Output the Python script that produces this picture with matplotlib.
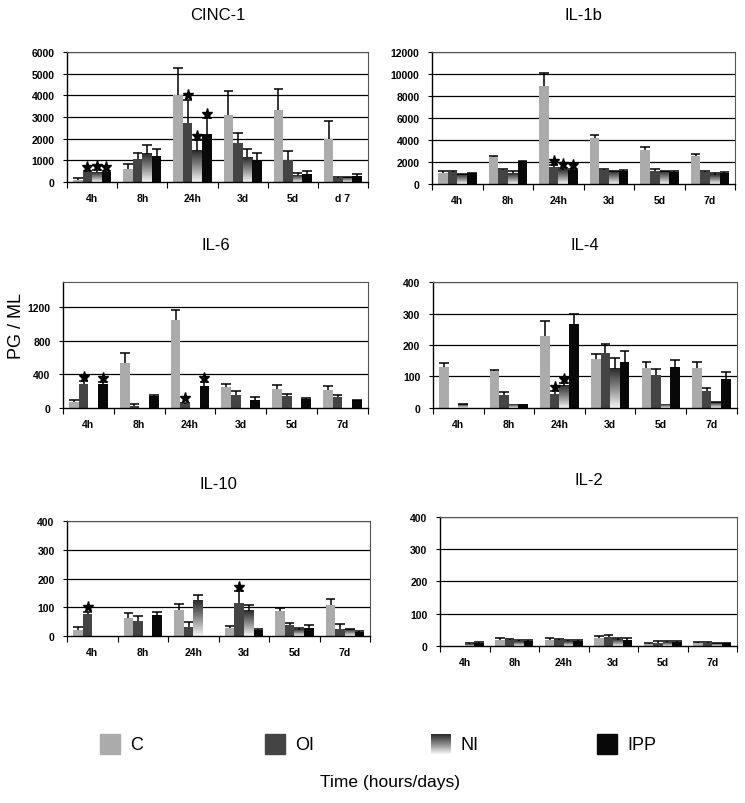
import matplotlib

matplotlib.use("Agg")
import matplotlib.pyplot as plt
import numpy as np
from matplotlib.colors import LinearSegmentedColormap
from matplotlib.patches import Rectangle
from matplotlib.transforms import offset_copy

plt.rcParams["font.family"] = ["Liberation Sans", "DejaVu Sans"]

SERIES = ["C", "OI", "NI", "IPP"]
TIMES = ["4h", "8h", "24h", "3d", "5d", "7d"]
TIMES_CINC = ["4h", "8h", "24h", "3d", "5d", "d 7"]

# values per series (C, OI, NI, IPP) x time; sd = upper error bar length
cinc1_mean = [[80, 600, 4000, 3100, 3300, 2000],
              [450, 1050, 2700, 1800, 1000, 200],
              [450, 1300, 1450, 1150, 300, 200],
              [450, 1200, 2200, 1000, 350, 280]]
cinc1_sd = [[90, 250, 1250, 1100, 1000, 820],
            [60, 300, 1100, 450, 450, 50],
            [100, 400, 500, 350, 100, 50],
            [70, 330, 750, 350, 150, 100]]
cinc1_stars = [(0, 1), (0, 2), (0, 3), (2, 1), (2, 2), (2, 3)]

il1b_mean = [[1000, 2450, 8950, 4200, 3050, 2500],
             [1050, 1250, 1550, 1300, 1150, 1050],
             [850, 1000, 1300, 1100, 1100, 850],
             [1000, 2100, 1250, 1200, 1100, 1000]]
il1b_sd = [[200, 100, 1150, 250, 300, 250],
           [100, 100, 200, 100, 250, 150],
           [50, 150, 150, 100, 100, 100],
           [30, 30, 100, 100, 100, 100]]
il1b_stars = [(2, 1), (2, 2), (2, 3)]

il6_mean = [[70, 530, 1050, 250, 230, 210],
            [290, 25, 50, 160, 140, 130],
            [0, 0, 0, 0, 0, 0],
            [280, 140, 260, 100, 110, 90]]
il6_sd = [[20, 130, 120, 40, 45, 50],
          [30, 25, 15, 40, 30, 30],
          [0, 0, 0, 0, 0, 0],
          [30, 10, 50, 30, 10, 10]]
il6_stars = [(0, 1), (0, 3), (2, 1), (2, 3)]

il4_mean = [[130, 118, 230, 155, 128, 128],
            [0, 42, 45, 175, 105, 55],
            [12, 12, 70, 125, 10, 18],
            [0, 12, 268, 145, 130, 92]]
il4_sd = [[12, 4, 47, 17, 17, 17],
          [0, 9, 10, 27, 20, 8],
          [2, 0, 10, 35, 0, 2],
          [0, 0, 29, 35, 22, 21]]
il4_stars = [(2, 1), (2, 2)]

il10_mean = [[20, 62, 92, 28, 88, 108],
             [75, 52, 32, 115, 38, 25],
             [0, 0, 125, 88, 22, 22],
             [0, 72, 0, 22, 28, 15]]
il10_sd = [[10, 18, 20, 7, 10, 20],
           [10, 16, 15, 40, 7, 18],
           [0, 0, 18, 20, 6, 3],
           [0, 13, 0, 4, 10, 3]]
il10_stars = [(0, 1), (3, 1)]

il2_mean = [[0, 20, 20, 25, 5, 8],
            [0, 18, 18, 28, 10, 10],
            [6, 15, 15, 20, 12, 8],
            [8, 15, 15, 18, 12, 8]]
il2_sd = [[0, 5, 4, 7, 5, 4],
          [0, 4, 4, 7, 4, 3],
          [4, 5, 5, 5, 4, 2],
          [4, 5, 5, 7, 3, 2]]
il2_stars = []

COLORS = ["#ababab", "#444444", None, "#080808"]
NI_CMAP = LinearSegmentedColormap.from_list("ni", ["#f4f4f4", "#8a8a8a", "#2a2a2a"])
GRAD = np.linspace(0, 1, 64).reshape(-1, 1)
BAR_W = 0.19


def panel(fig, rect, title, labels, mean, sd, stars, ymax, yticks):
    ax = fig.add_axes(rect)
    x = np.arange(len(labels))
    for s in range(4):
        xs = x + (s - 1.5) * BAR_W
        vals = np.asarray(mean[s], dtype=float)
        if COLORS[s] is None:
            for xi, v in zip(xs, vals):
                if v > 0:
                    ax.imshow(GRAD, cmap=NI_CMAP, origin="lower", aspect="auto",
                              extent=(xi - BAR_W / 2, xi + BAR_W / 2, 0, v), zorder=2)
        else:
            ax.bar(xs, vals, width=BAR_W, color=COLORS[s], zorder=2)
        tops = vals + np.asarray(sd[s])
        show = np.asarray(sd[s]) > 0
        ax.vlines(xs[show], vals[show], tops[show], color="black", lw=1.1, zorder=3)
        ax.hlines(tops[show], xs[show] - BAR_W * 0.5, xs[show] + BAR_W * 0.5,
                  color="black", lw=1.1, zorder=3)
    star_tr = offset_copy(ax.transData, fig=fig, y=3, units="points")
    for t, s in stars:
        xi = t + (s - 1.5) * BAR_W
        ax.plot(xi, mean[s][t] + sd[s][t], marker="*", ms=8, color="black",
                transform=star_tr, zorder=4, clip_on=False)

    ax.set_xlim(-0.5, len(labels) - 0.5)
    ax.set_ylim(0, ymax)
    ax.set_yticks(yticks)
    ax.set_yticklabels([str(v) for v in yticks], fontsize=7.5, fontweight="bold")
    for v in yticks[1:]:
        ax.axhline(v, color="black", lw=0.9, zorder=1)
    ax.set_xticks(np.arange(len(labels) + 1) - 0.5)
    ax.set_xticklabels([])
    ax.set_xticks(x, minor=True)
    ax.set_xticklabels(labels, minor=True, fontsize=7.5, fontweight="bold")
    ax.tick_params(axis="x", which="major", length=4, width=0.8, direction="out")
    ax.tick_params(axis="x", which="minor", length=0, pad=8)
    ax.tick_params(axis="y", length=3, width=0.8, pad=6)
    for side in ("top", "right"):
        ax.spines[side].set_linewidth(0.8)
        ax.spines[side].set_color("#555555")
    for side in ("left", "bottom"):
        ax.spines[side].set_linewidth(1.0)
    ax.set_title(title, fontsize=12, pad=24)
    return ax


fig = plt.figure(figsize=(7.45, 8.04), dpi=100)

panel(fig, [0.090, 0.7724, 0.404, 0.1617], "CINC-1", TIMES_CINC,
      cinc1_mean, cinc1_sd, cinc1_stars, 6000, list(range(0, 6001, 1000)))
panel(fig, [0.580, 0.770, 0.407, 0.164], "IL-1b", TIMES,
      il1b_mean, il1b_sd, il1b_stars, 12000, list(range(0, 12001, 2000)))
panel(fig, [0.0846, 0.4913, 0.409, 0.1567], "IL-6", TIMES,
      il6_mean, il6_sd, il6_stars, 1500, [0, 400, 800, 1200])
panel(fig, [0.581, 0.4913, 0.408, 0.1567], "IL-4", TIMES,
      il4_mean, il4_sd, il4_stars, 400, [0, 100, 200, 300, 400])
panel(fig, [0.090, 0.2077, 0.407, 0.143], "IL-10", TIMES,
      il10_mean, il10_sd, il10_stars, 400, [0, 100, 200, 300, 400])
panel(fig, [0.5906, 0.1953, 0.3987, 0.1604], "IL-2", TIMES,
      il2_mean, il2_sd, il2_stars, 400, [0, 100, 200, 300, 400])

fig.text(0.022, 0.595, "PG / ML", rotation=90, ha="center", va="center", fontsize=13)
fig.text(0.523, 0.027, "Time (hours/days)", ha="center", va="center", fontsize=12.5)

# legend row, laid out in pixel coordinates
leg = fig.add_axes([0, 0, 1, 1], zorder=-1)
leg.set_xlim(0, 745)
leg.set_ylim(804, 0)
leg.axis("off")
legend_x = [100, 265, 431, 597]
for s, lx in enumerate(legend_x):
    if COLORS[s] is None:
        leg.imshow(GRAD, cmap=NI_CMAP, origin="lower", aspect="auto",
                   extent=(lx, lx + 20, 755, 735))
    else:
        leg.add_patch(Rectangle((lx, 735), 20, 20, color=COLORS[s]))
    leg.text(lx + 30, 746, SERIES[s], fontsize=13, va="center", ha="left")
leg.set_xlim(0, 745)
leg.set_ylim(804, 0)

fig.savefig("out.png", dpi=100)
plt.close(fig)
